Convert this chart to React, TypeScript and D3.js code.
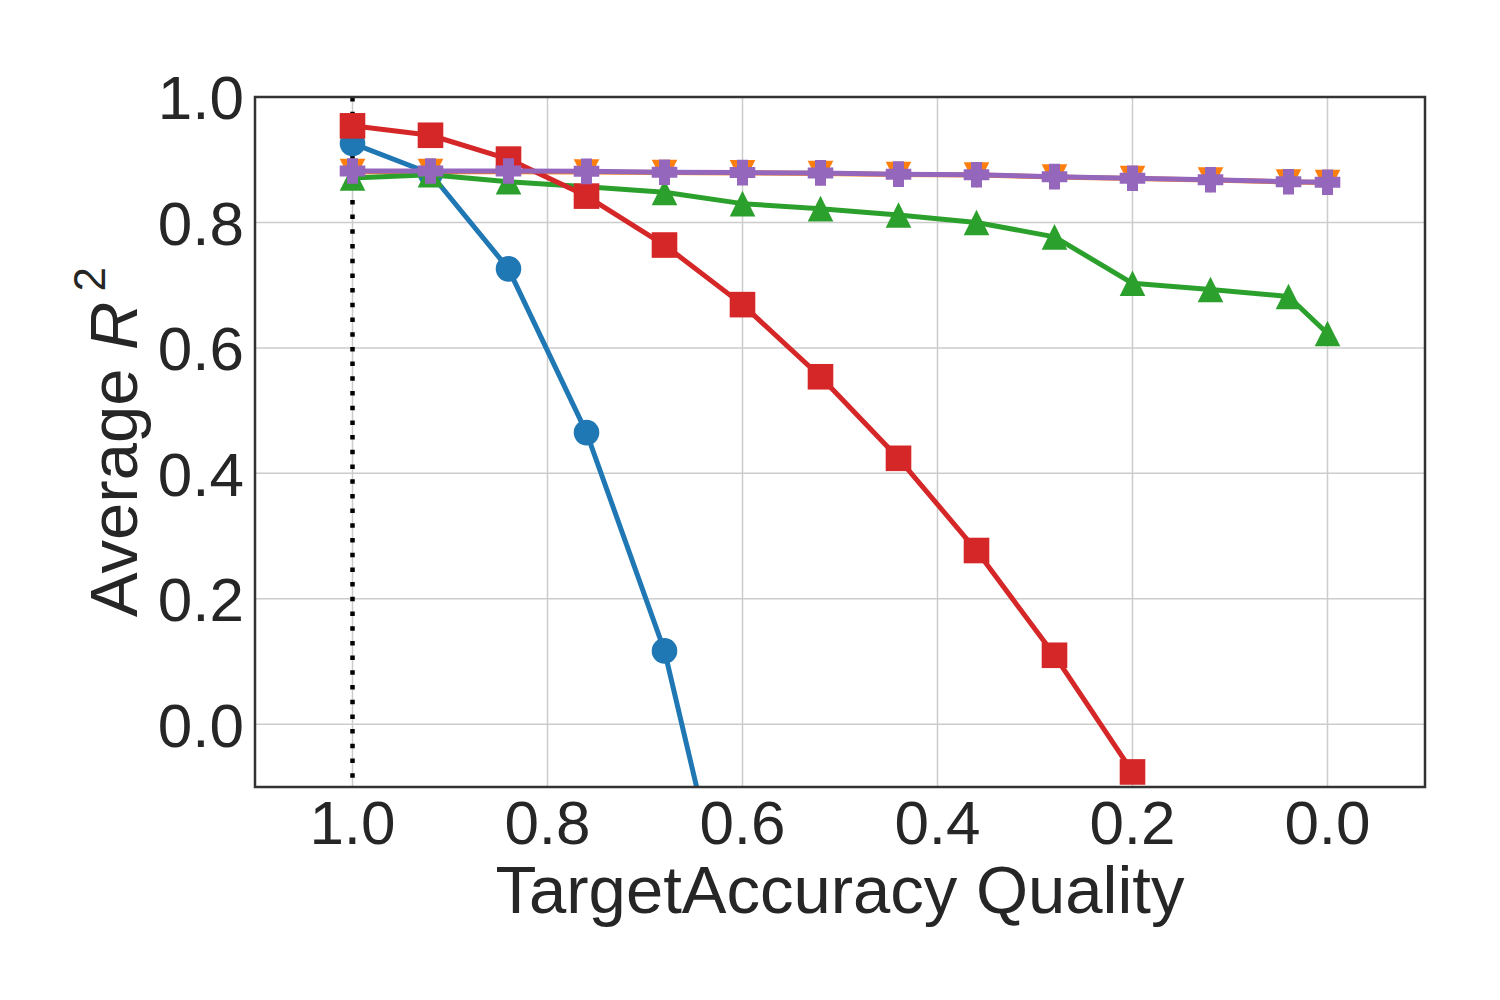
import React from "react";
import * as d3 from "d3";

// quality levels along the x axis (axis runs from 1.1 down to -0.1)
const quality = [1.0, 0.92, 0.84, 0.76, 0.68, 0.6, 0.52, 0.44, 0.36, 0.28, 0.2, 0.12, 0.04, 0.0];

// average R^2 per series (blue and red leave the plot)
const blueVals = [0.926, 0.878, 0.726, 0.465, 0.117, -0.41];
const orangeVals = [0.881, 0.881, 0.881, 0.8805, 0.8795, 0.879, 0.878, 0.8765, 0.8755, 0.8725, 0.87, 0.8675, 0.8645, 0.8635];
const greenVals = [0.871, 0.876, 0.865, 0.857, 0.848, 0.83, 0.822, 0.812, 0.8, 0.777, 0.703, 0.693, 0.682, 0.623];
const redVals = [0.954, 0.939, 0.901, 0.842, 0.764, 0.669, 0.554, 0.424, 0.277, 0.11, -0.076];
const purpleVals = [0.882, 0.882, 0.882, 0.8815, 0.88, 0.8795, 0.879, 0.877, 0.876, 0.873, 0.8705, 0.868, 0.865, 0.864];

const xTicks = [1.0, 0.8, 0.6, 0.4, 0.2, 0.0];
const yTicks = [0.0, 0.2, 0.4, 0.6, 0.8, 1.0];
const referenceX = 1.0;

type Marker = "circle" | "triangleDown" | "triangleUp" | "square" | "plus";

type Series = { name: string; values: number[]; color: string; marker: Marker };

const series: Series[] = [
    { name: "blue", values: blueVals, color: "#1f77b4", marker: "circle" },
    { name: "orange", values: orangeVals, color: "#ff7f0e", marker: "triangleDown" },
    { name: "green", values: greenVals, color: "#2ca02c", marker: "triangleUp" },
    { name: "red", values: redVals, color: "#d62728", marker: "square" },
    { name: "purple", values: purpleVals, color: "#9467bd", marker: "plus" },
];

const W = 1500;
const H = 1000;
const left = 255;
const right = 1425;
const top = 97;
const bottom = 787;
const textColor = "#262626";
const font = "'Liberation Sans', Arial, sans-serif";

const MarkerShape: React.FC<{ kind: Marker; x: number; y: number; color: string }> = ({ kind, x, y, color }) => {
    const s = 12.8;
    if (kind === "circle") return <circle cx={x} cy={y} r={s} fill={color} />;
    if (kind === "square") return <rect x={x - s} y={y - s} width={2 * s} height={2 * s} fill={color} />;
    if (kind === "triangleUp") {
        return <path d={`M${x},${y - s}L${x - s},${y + s}L${x + s},${y + s}Z`} fill={color} />;
    }
    if (kind === "triangleDown") {
        return <path d={`M${x},${y + s}L${x - s},${y - s}L${x + s},${y - s}Z`} fill={color} />;
    }
    const a = 5.5;
    const b = 12.8;
    const d = `M${x - a},${y - b}H${x + a}V${y - a}H${x + b}V${y + a}H${x + a}V${y + b}H${x - a}V${y + a}H${x - b}V${y - a}H${x - a}Z`;
    return <path d={d} fill={color} />;
};

export default function App() {
    const xScale = d3.scaleLinear().domain([1.1, -0.1]).range([left, right]);
    const yScale = d3.scaleLinear().domain([-0.1, 1.0]).range([bottom, top]);

    const line = d3
        .line<number>()
        .x((_, i) => xScale(quality[i]))
        .y((v) => yScale(v));

    return (
        <svg width={W} height={H} style={{ position: "absolute", left: 0, top: 0, background: "#fff" }}>
            <defs>
                <clipPath id="plot">
                    <rect x={left} y={top} width={right - left} height={bottom - top} />
                </clipPath>
            </defs>

            {/* grid */}
            {xTicks.map((t) => (
                <line key={"gx" + t} x1={xScale(t)} x2={xScale(t)} y1={top} y2={bottom} stroke="#cccccc" strokeWidth={1.5} />
            ))}
            {yTicks.map((t) => (
                <line key={"gy" + t} x1={left} x2={right} y1={yScale(t)} y2={yScale(t)} stroke="#cccccc" strokeWidth={1.5} />
            ))}

            <g clipPath="url(#plot)">
                <line
                    x1={xScale(referenceX)}
                    x2={xScale(referenceX)}
                    y1={top}
                    y2={bottom}
                    stroke="#000"
                    strokeWidth={4.5}
                    strokeDasharray="4.5 10.2"
                />
                {series.map((s) => (
                    <g key={s.name}>
                        <path d={line(s.values) ?? ""} fill="none" stroke={s.color} strokeWidth={5} strokeLinejoin="round" />
                        {s.values.map((v, i) => (
                            <MarkerShape key={i} kind={s.marker} x={xScale(quality[i])} y={yScale(v)} color={s.color} />
                        ))}
                    </g>
                ))}
            </g>

            {/* frame */}
            <rect x={left} y={top} width={right - left} height={bottom - top} fill="none" stroke="#333333" strokeWidth={2.5} />

            {/* tick labels */}
            <g fontFamily={font} fontSize={62} fill={textColor}>
                {xTicks.map((t) => (
                    <text key={"tx" + t} x={xScale(t)} y={844} textAnchor="middle">
                        {t.toFixed(1)}
                    </text>
                ))}
                {yTicks.map((t) => (
                    <text key={"ty" + t} x={244} y={yScale(t)} dy="0.36em" textAnchor="end">
                        {t.toFixed(1)}
                    </text>
                ))}
            </g>

            {/* axis labels */}
            <text x={(left + right) / 2} y={913} textAnchor="middle" fontFamily={font} fontSize={67} fill={textColor}>
                TargetAccuracy Quality
            </text>
            <text
                transform={`translate(137,${(top + bottom) / 2}) rotate(-90)`}
                textAnchor="middle"
                fontFamily={font}
                fontSize={67}
                fill={textColor}
            >
                Average <tspan fontStyle="italic">R</tspan>
                <tspan dx={10} dy={-32} fontSize={44}>2</tspan>
            </text>
        </svg>
    );
}
